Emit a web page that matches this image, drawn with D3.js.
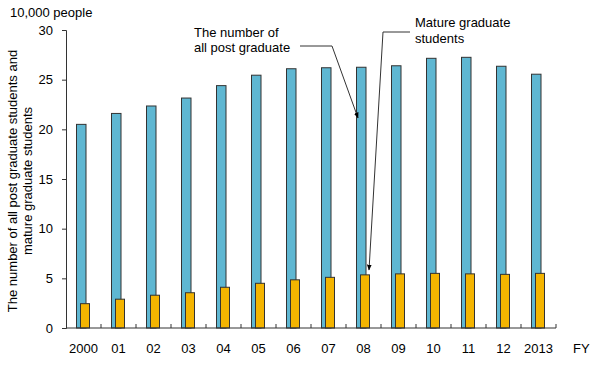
<!DOCTYPE html>
<html>
<head>
<meta charset="utf-8">
<script src="https://cdn.jsdelivr.net/npm/d3@7"></script>
<style>
  body { margin: 0; background: #fff; }
  text { font-family: Arial, "Liberation Sans", sans-serif; fill: #000; }
</style>
</head>
<body>
<svg width="600" height="370"></svg>
<script>
// fiscal years and values (10,000 people)
let years = ['2000', '01', '02', '03', '04', '05', '06', '07', '08', '09', '10', '11', '12', '2013'];
let allPost = [20.5, 21.6, 22.35, 23.15, 24.4, 25.45, 26.1, 26.2, 26.25, 26.4, 27.15, 27.25, 26.35, 25.55];
let mature = [2.45, 2.9, 3.3, 3.55, 4.1, 4.5, 4.85, 5.1, 5.35, 5.45, 5.5, 5.45, 5.4, 5.5];
let yTicks = [0, 5, 10, 15, 20, 25, 30];

let svg = d3.select('svg');
let plotLeft = 66, plotRight = 556, plotTop = 30, plotBottom = 328;

let x = d3.scaleBand().domain(years).range([plotLeft, plotRight]);
let y = d3.scaleLinear().domain([0, 30]).range([plotBottom, plotTop]);

let blueW = 9.5, orangeW = 9;

// blue bars
svg.selectAll('rect.all')
  .data(allPost)
  .enter()
  .append('rect')
  .attr('class', 'all')
  .attr('x', (d, i) => x(years[i]) + 10.5)
  .attr('y', d => y(d))
  .attr('width', blueW)
  .attr('height', d => plotBottom - y(d))
  .attr('fill', '#5fb7d2')
  .attr('stroke', '#333')
  .attr('stroke-width', 1);

// orange bars
svg.selectAll('rect.mature')
  .data(mature)
  .enter()
  .append('rect')
  .attr('class', 'mature')
  .attr('x', (d, i) => x(years[i]) + 14.5)
  .attr('y', d => y(d))
  .attr('width', orangeW)
  .attr('height', d => plotBottom - y(d))
  .attr('fill', '#f4b400')
  .attr('stroke', '#333')
  .attr('stroke-width', 1);

// y axis
let yAxis = svg.append('g')
  .attr('transform', `translate(${plotLeft},0)`)
  .call(d3.axisLeft(y).tickValues(yTicks).tickSize(4).tickPadding(9));
yAxis.select('.domain').attr('stroke', '#333');
yAxis.selectAll('.tick line').attr('stroke', '#333');
yAxis.selectAll('text').style('font-size', '13px').attr('fill', '#000');

// x axis with ticks between categories
let xAxis = svg.append('g').attr('transform', `translate(0,${plotBottom})`);
xAxis.append('line')
  .attr('x1', plotLeft).attr('x2', plotRight)
  .attr('stroke', '#333');
xAxis.selectAll('line.tk')
  .data(years)
  .enter()
  .append('line')
  .attr('class', 'tk')
  .attr('x1', (d, i) => plotLeft + x.step() * (i + 1))
  .attr('x2', (d, i) => plotLeft + x.step() * (i + 1))
  .attr('y1', 0).attr('y2', -4)
  .attr('stroke', '#333');
xAxis.selectAll('text')
  .data(years)
  .enter()
  .append('text')
  .attr('x', d => x(d) + x.bandwidth() / 2)
  .attr('y', 25)
  .attr('text-anchor', 'middle')
  .style('font-size', '13px')
  .text(d => d);

svg.append('text').attr('x', 573).attr('y', 353).style('font-size', '13px').text('FY');
svg.append('text').attr('x', 10).attr('y', 17).style('font-size', '13px').text('10,000 people');

// y title
let yt = svg.append('text')
  .attr('transform', 'translate(0,181) rotate(-90)')
  .attr('text-anchor', 'middle')
  .style('font-size', '13px');
yt.append('tspan').attr('x', 0).attr('y', 17).text('The number of all post graduate students and');
yt.append('tspan').attr('x', 0).attr('y', 32).text('mature graduate students');

// annotations
svg.append('defs').append('marker')
  .attr('id', 'arr')
  .attr('viewBox', '0 0 10 10')
  .attr('refX', 9).attr('refY', 5)
  .attr('markerWidth', 6).attr('markerHeight', 6)
  .attr('orient', 'auto')
  .append('path').attr('d', 'M0,1 L10,5 L0,9 Z').attr('fill', '#000');

let a1 = svg.append('text').style('font-size', '13px');
a1.append('tspan').attr('x', 194).attr('y', 37).text('The number of');
a1.append('tspan').attr('x', 194).attr('y', 52).text('all post graduate');
svg.append('polyline')
  .attr('points', '300,46 332,46 358,118')
  .attr('fill', 'none').attr('stroke', '#333')
  .attr('marker-end', 'url(#arr)');

let a2 = svg.append('text').style('font-size', '13px');
a2.append('tspan').attr('x', 415).attr('y', 27).text('Mature graduate');
a2.append('tspan').attr('x', 415).attr('y', 43).text('students');
svg.append('polyline')
  .attr('points', '410,32 383,32 369,270')
  .attr('fill', 'none').attr('stroke', '#333')
  .attr('marker-end', 'url(#arr)');
</script>
</body>
</html>
